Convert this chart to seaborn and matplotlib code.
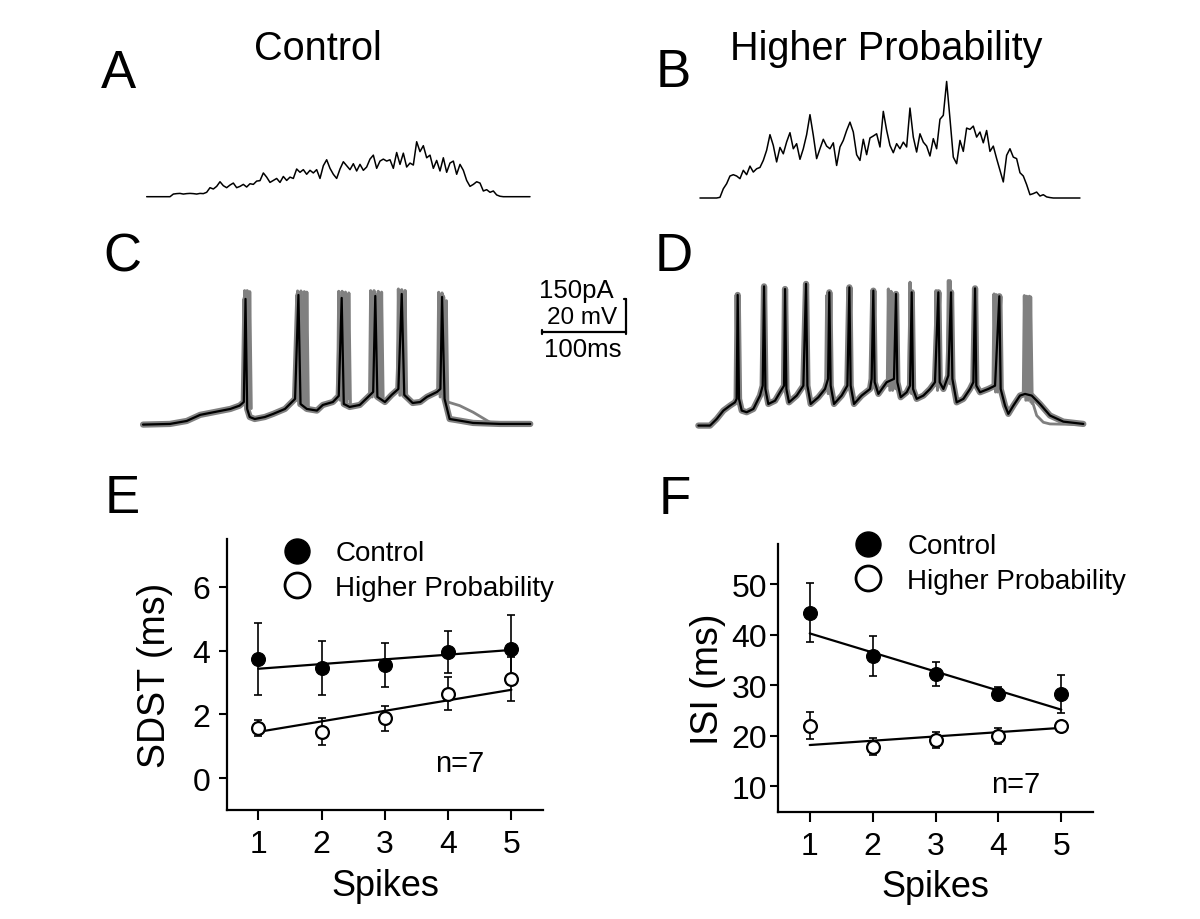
import matplotlib
matplotlib.use("Agg")
import matplotlib.pyplot as plt
import numpy as np
import seaborn as sns
from matplotlib.lines import Line2D

W, H = 1200, 920

# ---- A / B: injected current (pA), one sample every 4 ms ----
DT_INPUT = 4.0
current_control = [
    0, 0, 0, 0, 0, 0, 0, 0,
    12, 14, 15, 12, 14, 15, 14, 12, 15, 14,
    20, 41, 35, 47, 68, 50, 41, 53, 62, 41,
    47, 56, 44, 59, 56, 71, 73, 108, 89, 65,
    74, 83, 65, 92, 74, 89, 83, 126, 111, 123,
    102, 120, 108, 123, 83, 141, 168, 129, 102, 83,
    126, 159, 141, 123, 150, 117, 147, 120, 135, 171,
    189, 129, 162, 171, 162, 168, 129, 201, 147, 198,
    135, 153, 144, 250, 205, 232, 177, 189, 129, 165,
    117, 177, 111, 153, 162, 102, 147, 120, 74, 47,
    56, 68, 62, 26, 32, 20, 26, 8, 2,
    0, 0, 0, 0, 0, 0, 0, 0, 0,
]
current_higher = [
    0, 0, 0, 0, 0, 0,
    3, 42, 65, 100, 106, 100, 88, 126, 106, 145,
    118, 133, 139, 171, 217, 288, 239, 164, 230, 201,
    255, 297, 224, 247, 176, 224, 288, 379, 285, 179,
    224, 267, 236, 224, 251, 148, 232, 262, 307, 345,
    300, 197, 171, 267, 197, 273, 282, 292, 232, 394,
    308, 239, 206, 247, 224, 254, 232, 409, 277, 209,
    292, 254, 236, 191, 270, 224, 358, 376, 530, 361,
    186, 156, 262, 212, 318, 312, 327, 277, 300, 251,
    307, 212, 236, 179, 126, 73, 194, 224, 186, 179,
    115, 100, 61, 15, 20, 27, 9, 15, 5, 2,
    0, 0, 0, 0, 0, 0, 0, 0, 0,
]

# ---- C: control membrane potential (ms, mV) ----
c_t = [0, 32, 52, 68, 86, 104, 115, 120, 122, 124, 127, 133, 145, 155, 169, 181,
       185, 187.5, 195, 207, 214, 226, 233, 236.5, 239, 246, 258, 268, 274, 276.5,
       279, 288, 296, 304, 308, 311, 321, 330, 338, 350, 354, 356, 359, 365, 377,
       393, 425, 461]
c_v = [-69.8, -69.4, -67.6, -63.9, -62.1, -60.3, -58.3, -56.1, 6.4, -60.3, -65.2,
       -66.4, -65.2, -63.3, -60.3, -54.2, 8.8, -57.3, -60.3, -61.3, -57.9, -56.1,
       -52.4, 7.0, -57.3, -59.1, -57.9, -53.0, -50.0, 8.2, -53.0, -56.1, -51.8,
       -48.2, 9.4, -51.8, -56.7, -56.1, -53.0, -50.0, -48.2, 7.6, -54.2, -66.4,
       -67.4, -68.8, -69.4, -69.4]
c_gray_spike_t = [121, 124, 127, 184, 188, 192, 195, 233, 237, 241, 245,
                  271, 275, 280, 284, 304, 308, 312, 352, 356, 361]
c_gray_spike_peak = [11.4, 11.4, 10.8, 11.2, 11.2, 10.8, 10.5, 11.0, 11.0, 10.5, 10.0,
                     11.4, 11.4, 11.0, 10.5, 12.4, 12.0, 11.5, 10.4, 10.0, 5.3]
c_gray_spike_foot = [-56, -56, -57, -55, -55, -56, -57, -52, -52, -53, -54,
                     -50, -50, -51, -52, -49, -49, -50, -50, -51, -54]
c_gray_tail_t = [361, 363.5, 377, 393, 413, 440, 461]
c_gray_tail_v = [-54, -56.2, -58.3, -62.3, -68.4, -69.5, -69.5]

# ---- D: higher probability membrane potential (ms, mV) ----
d_t = [0.4, 14.3, 22.2, 30.2, 38.1, 44.0, 46.0, 47.2, 48.8, 52.0, 57.9, 65.9, 73.8,
       77.0, 78.6, 80.2, 83.7, 91.7, 97.6, 102.4, 103.6, 105.2, 108.3, 117.5, 125.4,
       128.6, 130.2, 134.1, 143.3, 151.2, 154.8, 156.3, 157.9, 161.9, 171.0, 177.8,
       180.2, 181.7, 185.7, 194.8, 204.8, 206.7, 208.7, 210.3, 214.7, 224.6, 233.3,
       235.7, 237.3, 241.3, 248.4, 252.4, 254.4, 256.0, 260.3, 268.3, 276.2, 282.1,
       286.1, 287.7, 292.1, 298.0, 301.2, 302.8, 307.9, 315.9, 323.8, 327.8, 329.8,
       331.3, 335.7, 345.6, 353.6, 358.7, 360.3, 365.5, 369.4, 375.4, 383.3, 389.3,
       397.2, 407.1, 419.0, 434.9, 458.7]
d_v = [-70.4, -70.4, -66.4, -61.3, -58.3, -56.3, -54.2, 8.8, -54.2, -61.3, -62.3,
       -60.3, -52.2, -46.2, 14.0, -48.2, -57.3, -55.3, -50.2, -46.2, 12.4, -48.2,
       -56.3, -52.2, -46.2, 15.5, -46.2, -57.3, -53.2, -48.2, -42.1, 10.4, -46.2,
       -57.3, -52.2, -46.2, 13.4, -46.2, -57.3, -52.2, -48.2, -42.1, 11.4, -44.1,
       -51.2, -44.1, -42.1, 9.4, -44.1, -53.2, -50.2, -46.2, 10.4, -48.2, -54.2,
       -52.2, -48.2, -44.1, 10.4, -44.1, -48.2, -40.1, 10.4, -42.1, -56.3, -54.2,
       -48.2, -44.1, 12.8, -46.2, -50.2, -48.2, -46.2, 8.0, -48.2, -58.3, -63.3,
       -58.3, -52.2, -51.2, -52.2, -57.3, -64.3, -68.0, -69.4]
d_gray_spike_t = [153.2, 226.6, 229.8, 233.3, 252.4, 283.3, 298.0, 300.0,
                  352.4, 354.8, 388.5, 391.3, 394.4, 396.0]
d_gray_spike_peak = [8.4, 12.4, 11.0, 9.4, 16.5, 11.4, 17.5, 17.5,
                     9.4, 9.0, 8.4, 8.0, 8.0, 7.6]
d_gray_spike_foot = [-48, -46, -46, -45, -48, -46, -42, -42,
                     -47, -47, -52, -52, -53, -54]
d_gray_tail_t = [397, 403.2, 411.1, 419.0, 458.7]
d_gray_tail_v = [-54, -64.3, -68.4, -69.4, -69.8]

# scale bars
SCALE_MS = 100
SCALE_MV = 20

# ---- E / F: summary ----
spikes = [1, 2, 3, 4, 5]
fit_x = [1, 5]
sdst_control = [3.74, 3.46, 3.55, 3.97, 4.05]
sdst_control_err = [1.13, 0.85, 0.68, 0.66, 1.07]
sdst_higher = [1.58, 1.46, 1.87, 2.65, 3.12]
sdst_higher_err = [0.25, 0.42, 0.38, 0.52, 0.69]
sdst_fit_control = [3.43, 4.02]
sdst_fit_higher = [1.45, 2.77]
isi_control = [44.4, 35.8, 32.3, 28.4, 28.3]
isi_control_err = [5.8, 3.9, 2.4, 1.35, 3.85]
isi_higher = [22.0, 17.9, 19.2, 20.0, 22.0]
isi_higher_err = [2.7, 1.6, 1.6, 1.65, 0.5]
isi_fit_control = [40.3, 25.2]
isi_fit_higher = [18.2, 21.6]

GRAY = "#808080"


def box(left, top, right, bottom):
    return [left / W, 1 - bottom / H, (right - left) / W, (bottom - top) / H]


def ftext(fig, x, y, s, **kw):
    fig.text(x / W, 1 - y / H, s, **kw)


def draw_current(ax, values):
    t = np.arange(len(values)) * DT_INPUT
    sns.lineplot(x=t, y=values, ax=ax, color="black", lw=1.1)
    ax.set_xlim(-8, 472)
    ax.set_ylim(-15, 558)
    ax.axis("off")


def draw_vm(ax, t, v, g_t, g_peak, g_foot, tail_t, tail_v):
    sns.lineplot(x=t, y=v, ax=ax, sort=False, estimator=None, color=GRAY, lw=4.5)
    for st, pk, ft in zip(g_t, g_peak, g_foot):
        ax.plot([st - 1.2, st, st + 1.8], [ft, pk, ft - 3], color=GRAY, lw=2.2)
    ax.plot(tail_t, tail_v, color=GRAY, lw=2.0)
    sns.lineplot(x=t, y=v, ax=ax, sort=False, estimator=None, color="black", lw=1.6)
    ax.set_xlim(-3.6, 472.6)
    ax.set_ylim(-75.5, 21.5)
    ax.axis("off")


def draw_summary(ax, ctrl, ctrl_err, high, high_err, fit_ctrl, fit_high, ypad):
    sns.lineplot(x=fit_x, y=fit_ctrl, ax=ax, color="black", lw=1.6)
    sns.lineplot(x=fit_x, y=fit_high, ax=ax, color="black", lw=1.6)
    ax.errorbar(spikes, high, yerr=high_err, fmt="none", ecolor="black",
                elinewidth=1.2, capsize=3, capthick=1.2, zorder=3)
    ax.errorbar(spikes, ctrl, yerr=ctrl_err, fmt="none", ecolor="black",
                elinewidth=1.2, capsize=3, capthick=1.2, zorder=3)
    sns.scatterplot(x=spikes, y=ctrl, ax=ax, color="black", edgecolor="black",
                    s=100, zorder=4)
    sns.scatterplot(x=spikes, y=high, ax=ax, color="white", edgecolor="black",
                    linewidth=1.6, s=85, zorder=4)
    ax.set_xlim(0.5, 5.5)
    ax.set_xticks(spikes)
    ax.set_xlabel("Spikes", fontsize=26, labelpad=6)
    ax.tick_params(axis="x", direction="out", length=7, width=1.5, labelsize=23, pad=7)
    ax.tick_params(axis="y", direction="out", length=6, width=1.5, labelsize=23, pad=ypad)
    for side in ["left", "bottom"]:
        ax.spines[side].set_linewidth(1.6)
    sns.despine(ax=ax)


def legend(ax, anchor):
    handles = [
        Line2D([], [], marker="o", ls="none", ms=18, mfc="black", mec="black"),
        Line2D([], [], marker="o", ls="none", ms=18, mfc="white", mec="black", mew=2),
    ]
    ax.legend(handles, ["Control", "Higher Probability"], loc="upper left",
              bbox_to_anchor=anchor, frameon=False, fontsize=20, handlelength=1.0,
              handletextpad=0.9, labelspacing=0.3, borderpad=0, borderaxespad=0)


def main():
    sns.set_theme(style="ticks")
    plt.rcParams["font.family"] = ["Liberation Sans", "DejaVu Sans"]
    for key in ["text.color", "axes.labelcolor", "xtick.color", "ytick.color",
                "axes.edgecolor"]:
        plt.rcParams[key] = "black"

    fig = plt.figure(figsize=(12, 9.2), dpi=100)

    ax_a = fig.add_axes(box(140, 75, 540, 201))
    draw_current(ax_a, current_control)
    ax_b = fig.add_axes(box(693.3, 76.3, 1093.3, 202.3))
    draw_current(ax_b, current_higher)

    ax_c = fig.add_axes(box(140, 275, 540, 435))
    draw_vm(ax_c, c_t, c_v, c_gray_spike_t, c_gray_spike_peak, c_gray_spike_foot,
            c_gray_tail_t, c_gray_tail_v)
    ax_d = fig.add_axes(box(695, 275, 1095, 435))
    draw_vm(ax_d, d_t, d_v, d_gray_spike_t, d_gray_spike_peak, d_gray_spike_foot,
            d_gray_tail_t, d_gray_tail_v)

    # scale bar (drawn in the C axes data space)
    x0, y0 = 474.6, -13.8
    ax_c.plot([x0, x0 + SCALE_MS], [y0, y0], color="black", lw=1.6, clip_on=False)
    ax_c.plot([x0, x0], [y0 - 1.2, y0 + 1.2], color="black", lw=1.6, clip_on=False)
    ax_c.plot([x0 + SCALE_MS] * 2, [y0 - 1.2, y0 + SCALE_MV], color="black", lw=1.6,
              clip_on=False)
    ax_c.plot([x0 + SCALE_MS - 2.5, x0 + SCALE_MS], [y0 + SCALE_MV] * 2, color="black",
              lw=1.6, clip_on=False)
    ftext(fig, 576, 291, "150pA", fontsize=18.5, ha="center", va="center")
    ftext(fig, 582, 318, "20 mV", fontsize=17.5, ha="center", va="center")
    ftext(fig, 583, 350, "100ms", fontsize=18.5, ha="center", va="center")

    ax_e = fig.add_axes(box(226.7, 540, 543, 811))
    draw_summary(ax_e, sdst_control, sdst_control_err, sdst_higher, sdst_higher_err,
                 sdst_fit_control, sdst_fit_higher, ypad=6)
    ax_e.set_ylim(-1, 7.5)
    ax_e.set_yticks([0, 2, 4, 6])
    ax_e.set_ylabel("SDST (ms)", fontsize=27, labelpad=14)
    legend(ax_e, (0.177, 0.995))

    ax_f = fig.add_axes(box(778.3, 545, 1092.7, 812.7))
    draw_summary(ax_f, isi_control, isi_control_err, isi_higher, isi_higher_err,
                 isi_fit_control, isi_fit_higher, ypad=2)
    ax_f.set_ylim(5, 58)
    ax_f.set_yticks([10, 20, 30, 40, 50])
    ax_f.set_ylabel("ISI (ms)", fontsize=27, labelpad=4)
    legend(ax_f, (0.242, 1.04))

    ftext(fig, 435, 772, "n=7", fontsize=21, ha="left", va="baseline")
    ftext(fig, 991, 793, "n=7", fontsize=21, ha="left", va="baseline")

    ftext(fig, 318, 60, "Control", fontsize=28.5, ha="center", va="baseline")
    ftext(fig, 886, 60, "Higher Probability", fontsize=28.5, ha="center", va="baseline")
    for letter, x, y in [("A", 101, 88), ("B", 656, 87), ("C", 103, 271),
                         ("D", 655, 271), ("E", 105, 513), ("F", 659, 514)]:
        ftext(fig, x, y, letter, fontsize=38, ha="left", va="baseline")

    fig.savefig("out.png", dpi=100, facecolor="white")
    plt.close(fig)


if __name__ == "__main__":
    main()
